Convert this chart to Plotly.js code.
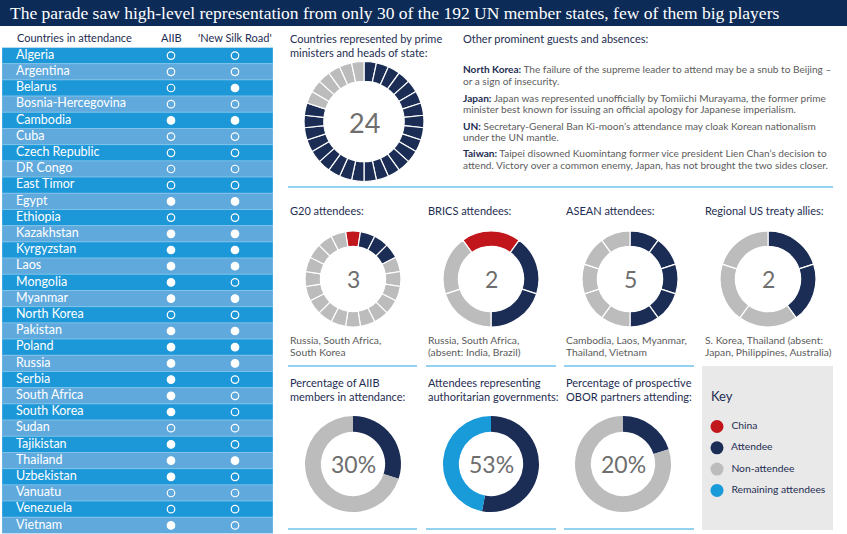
<!DOCTYPE html>
<html>
<head>
<meta charset="utf-8">
<script src="https://cdn.plot.ly/plotly-3.0.1.min.js"></script>
<style>html,body{margin:0;padding:0;background:#fff;}#chart{width:847px;height:534px;}</style>
</head>
<body>
<div id="chart"></div>
<script>
// ---------------- DATA ----------------
const countries = ['Algeria','Argentina','Belarus','Bosnia-Hercegovina','Cambodia','Cuba','Czech Republic','DR Congo','East Timor','Egypt','Ethiopia','Kazakhstan','Kyrgyzstan','Laos','Mongolia','Myanmar','North Korea','Pakistan','Poland','Russia','Serbia','South Africa','South Korea','Sudan','Tajikistan','Thailand','Uzbekistan','Vanuatu','Venezuela','Vietnam'];
const aiibMember = [0,0,0,0,1,0,0,0,0,1,0,1,1,1,1,1,0,1,1,1,1,1,1,0,1,1,1,0,0,1];
const silkRoad   = [0,0,1,0,1,0,0,0,0,1,0,1,1,1,0,1,0,1,1,1,0,0,0,0,0,1,0,0,0,0];

const keyLabels = ['China','Attendee','Non-attendee','Remaining attendees'];
// counts per key category: [China, Attendee, Non-attendee]
const headsOfState = [0, 24, 6];
const g20Counts    = [1, 3, 16];
const bricsCounts  = [1, 2, 2];
const aseanCounts  = [0, 5, 5];
const usAllyCounts = [0, 2, 3];
// percentage donuts
const aiibShare = [30, 70];   // attendee, non-attendee
const authShare = [53, 47];   // attendee (authoritarian), remaining attendees
const oborShare = [20, 80];   // attendee, non-attendee

// ---------------- STYLE ----------------
const W = 847, H = 534;
const NAVY = '#1b2d55', RED = '#c1161c', GRAY = '#bcbcbc', LBLUE = '#199ad9';
const keyColors = [RED, NAVY, GRAY, LBLUE];
const TXT_NAVY = '#1e2d52', TXT_GRAY = '#5c5c5c', SEP = '#93d2f1';
const FONT = 'Lato, "Open Sans", sans-serif';
const fx = p => p / W;
const fy = p => 1 - p / H;

const traces = [];
const annotations = [];
const shapes = [];

function txt(x, y, text, size, color, extra) {
  annotations.push(Object.assign({
    xref: 'paper', yref: 'paper', x: fx(x), y: fy(y), text: text, showarrow: false,
    xanchor: 'left', yanchor: 'middle', font: {family: FONT, size: size, color: color}
  }, extra || {}));
}

function segDonut(cx, cy, r, counts, hole, rotation) {
  const vals = [], cols = [];
  counts.forEach((n, k) => { for (let i = 0; i < n; i++) { vals.push(1); cols.push(keyColors[k]); } });
  traces.push({
    type: 'pie', values: vals, marker: {colors: cols, line: {color: '#ffffff', width: 1.2}},
    hole: hole, sort: false, direction: 'clockwise', rotation: rotation,
    textinfo: 'none', hoverinfo: 'skip', showlegend: false,
    domain: {x: [fx(cx - r), fx(cx + r)], y: [fy(cy + r), fy(cy - r)]}
  });
}
function pctDonut(cx, cy, r, share, colors) {
  traces.push({
    type: 'pie', values: share, marker: {colors: colors, line: {width: 0}},
    hole: 0.67, sort: false, direction: 'clockwise', rotation: 0,
    textinfo: 'none', hoverinfo: 'skip', showlegend: false,
    domain: {x: [fx(cx - r), fx(cx + r)], y: [fy(cy + r), fy(cy - r)]}
  });
}
function centerLabel(cx, cy, text, size) {
  annotations.push({xref: 'paper', yref: 'paper', x: fx(cx), y: fy(cy), text: text, showarrow: false,
    xanchor: 'center', yanchor: 'middle', font: {family: FONT, size: size, color: '#6e6e6e'}});
}

// ---------------- TABLE ----------------
const tblX0 = 2, tblX1 = 273, tblY0 = 47.5, tblY1 = 533.5;
const colX = p => (p - tblX0) / (tblX1 - tblX0);
traces.push({
  type: 'bar', orientation: 'h', y: countries, x: countries.map(() => 1),
  marker: {color: countries.map((c, i) => i % 2 ? '#60a9dd' : '#1c97d8'), line: {color: '#8ccbef', width: 0.6}},
  width: 1, hoverinfo: 'skip', showlegend: false, xaxis: 'x', yaxis: 'y'
});
traces.push({
  type: 'scatter', mode: 'text', y: countries, x: countries.map(() => colX(16)),
  text: countries, textposition: 'middle right',
  textfont: {family: FONT, size: 12.5, color: '#ffffff'}, hoverinfo: 'skip', showlegend: false, xaxis: 'x', yaxis: 'y'
});
[[aiibMember, 171], [silkRoad, 235]].forEach(([arr, px]) => {
  traces.push({
    type: 'scatter', mode: 'markers', y: countries, x: countries.map(() => colX(px)),
    marker: {symbol: arr.map(v => v ? 'circle' : 'circle-open'), size: 7.5, color: '#ffffff', line: {color: '#ffffff', width: 1.2}},
    hoverinfo: 'skip', showlegend: false, xaxis: 'x', yaxis: 'y'
  });
});
txt(15, 38, 'Countries in attendance', 11, TXT_NAVY);
txt(171, 38, 'AIIB', 11, TXT_NAVY, {xanchor: 'center'});
txt(235, 38, "'New Silk Road'", 11, TXT_NAVY, {xanchor: 'center'});

// ---------------- SHAPES ----------------
shapes.push({type: 'rect', xref: 'paper', yref: 'paper', x0: 0, x1: 1, y0: fy(26), y1: 1, fillcolor: '#0c2b57', line: {width: 0}, layer: 'below'});
shapes.push({type: 'line', xref: 'paper', yref: 'paper', x0: fx(288), x1: fx(833), y0: fy(187), y1: fy(187), line: {color: SEP, width: 2}});
[[288, 417], [426, 556], [564, 694]].forEach(([a, b]) => {
  [366, 529].forEach(yy => shapes.push({type: 'line', xref: 'paper', yref: 'paper', x0: fx(a), x1: fx(b), y0: fy(yy), y1: fy(yy), line: {color: SEP, width: 2}}));
});
shapes.push({type: 'rect', xref: 'paper', yref: 'paper', x0: fx(702), x1: fx(833), y0: fy(530), y1: fy(366), fillcolor: '#e9e9e9', line: {width: 0}, layer: 'below'});

// ---------------- TITLE ----------------
annotations.push({xref: 'paper', yref: 'paper', x: fx(8), y: fy(13), xanchor: 'left', yanchor: 'middle', showarrow: false,
  text: 'The parade saw high-level representation from only 30 of the 192 UN member states, few of them big players',
  font: {family: '"Liberation Serif", serif', size: 17.5, color: '#ffffff'}});

// ---------------- TOP SECTION ----------------
txt(288, 39, 'Countries represented by prime', 11, TXT_NAVY);
txt(288, 52, 'ministers and heads of state:', 11, TXT_NAVY);
segDonut(364, 121.5, 60, headsOfState, 0.67, 0);
centerLabel(364, 122, String(headsOfState[1]), 27);

txt(461, 39, 'Other prominent guests and absences:', 11, TXT_NAVY);
const B = s => '<b><span style="color:' + TXT_NAVY + '">' + s + '</span></b>';
const paraLines = [
  [69, B('North Korea:') + ' The failure of the supreme leader to attend may be a snub to Beijing –'],
  [81, 'or a sign of insecurity.'],
  [98, B('Japan:') + ' Japan was represented unofficially by Tomiichi Murayama, the former prime'],
  [109, 'minister best known for issuing an official apology for Japanese imperialism.'],
  [126, B('UN:') + ' Secretary-General Ban Ki-moon’s attendance may cloak Korean nationalism'],
  [137, 'under the UN mantle.'],
  [153, B('Taiwan:') + ' Taipei disowned Kuomintang former vice president Lien Chan’s decision to'],
  [165, 'attend. Victory over a common enemy, Japan, has not brought the two sides closer.']
];
paraLines.forEach(([y, t]) => txt(461, y, t, 10.1, TXT_GRAY));

// ---------------- ROW 2 ----------------
const row2 = [
  [288, 353, 'G20 attendees:', g20Counts, -9, ['Russia, South Africa,', 'South Korea']],
  [426, 491, 'BRICS attendees:', bricsCounts, -36, ['Russia, South Africa,', '(absent: India, Brazil)']],
  [564, 630, 'ASEAN attendees:', aseanCounts, 0, ['Cambodia, Laos, Myanmar,', 'Thailand, Vietnam']],
  [703, 768, 'Regional US treaty allies:', usAllyCounts, 0, ['S. Korea, Thailand (absent:', 'Japan, Philippines, Australia)']]
];
row2.forEach(([tx, cx, title, counts, rot, cap]) => {
  txt(tx, 210, title, 11, TXT_NAVY);
  segDonut(cx, 279, 48, counts, 0.68, rot);
  centerLabel(cx, 279, String(counts[1]), 23);
  txt(tx, 340, cap[0], 10.3, TXT_GRAY);
  txt(tx, 352, cap[1], 10.3, TXT_GRAY);
});

// ---------------- ROW 3 ----------------
const row3 = [
  [288, 353, ['Percentage of AIIB', 'members in attendance:'], aiibShare, [NAVY, GRAY]],
  [426, 491, ['Attendees representing', 'authoritarian governments:'], authShare, [NAVY, LBLUE]],
  [564, 623, ['Percentage of prospective', 'OBOR partners attending:'], oborShare, [NAVY, GRAY]]
];
row3.forEach(([tx, cx, title, share, cols]) => {
  txt(tx, 382, title[0], 11, TXT_NAVY);
  txt(tx, 396, title[1], 11, TXT_NAVY);
  pctDonut(cx, 464, 48, share, cols);
  centerLabel(cx, 464, share[0] + '%', 23);
});

// ---------------- KEY ----------------
txt(709, 396, 'Key', 13, TXT_NAVY);
traces.push({
  type: 'scatter', mode: 'markers+text', x: keyLabels.map(() => 717), y: keyLabels.map((k, i) => 426.5 + i * 21.3),
  text: keyLabels.map(k => '  ' + k), textposition: 'middle right',
  textfont: {family: FONT, size: 10.3, color: TXT_NAVY},
  marker: {size: 13, color: keyColors, line: {width: 0}}, cliponaxis: false,
  hoverinfo: 'skip', showlegend: false, xaxis: 'x2', yaxis: 'y2'
});

const layout = {
  width: W, height: H, margin: {l: 0, r: 0, t: 0, b: 0, pad: 0},
  paper_bgcolor: '#ffffff', plot_bgcolor: 'rgba(0,0,0,0)', showlegend: false, bargap: 0,
  xaxis: {domain: [fx(tblX0), fx(tblX1)], range: [0, 1], visible: false, fixedrange: true},
  yaxis: {domain: [fy(tblY1), fy(tblY0)], type: 'category', autorange: false, range: [countries.length - 0.5, -0.5], visible: false, fixedrange: true},
  xaxis2: {domain: [0, 1], range: [0, W], visible: false, fixedrange: true, anchor: 'y2'},
  yaxis2: {domain: [0, 1], range: [H, 0], visible: false, fixedrange: true, anchor: 'x2'},
  annotations: annotations, shapes: shapes
};
Plotly.newPlot('chart', traces, layout, {displayModeBar: false, staticPlot: true});
</script>
</body>
</html>
